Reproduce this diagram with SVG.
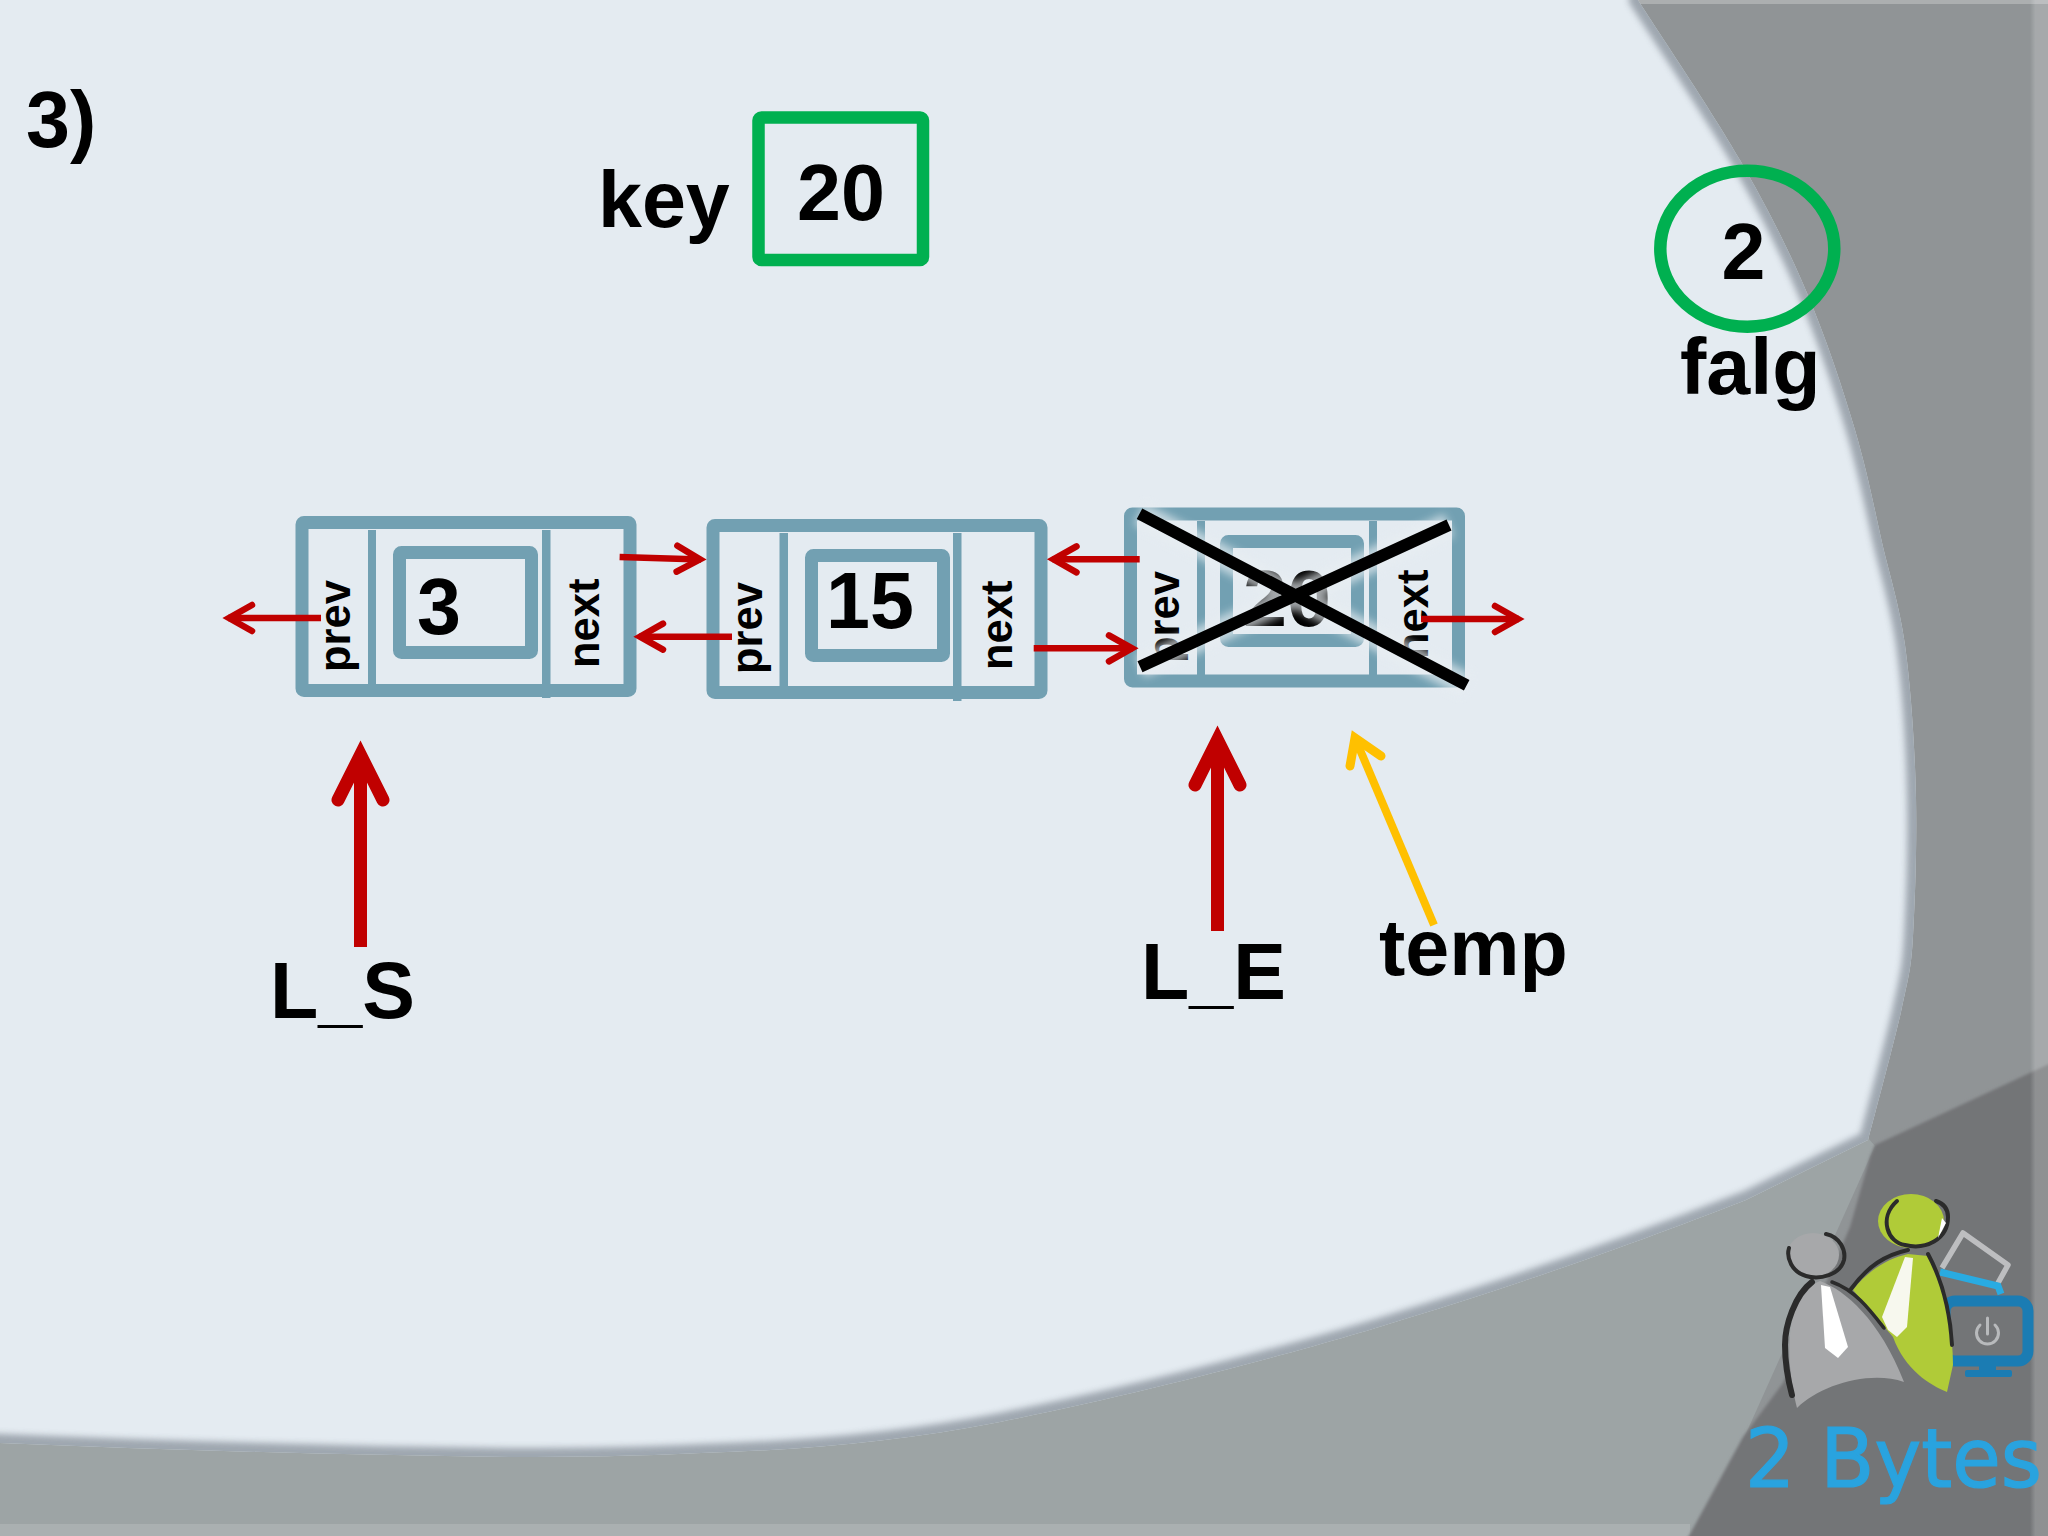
<svg xmlns="http://www.w3.org/2000/svg" width="2048" height="1536" viewBox="0 0 2048 1536">
<style>
text{font-family:"Liberation Sans",Arial,sans-serif;font-weight:700;fill:#000;font-size:79px}
.lbl{font-size:43.5px}
.frame{fill:none;stroke:#72A0B2;stroke-width:13;stroke-linejoin:round}
.div{fill:#72A0B2}
.thin{fill:none;stroke:#C00000;stroke-width:6.5;marker-end:url(#chev)}
.big{fill:none;stroke:#C00000;stroke-width:13;stroke-linecap:butt}
.bighead{fill:none;stroke:#C00000;stroke-width:13;stroke-linecap:round;stroke-miterlimit:10}
.x{fill:none;stroke:#000;stroke-width:12}
.xg{fill:none;stroke:#E8EEF2;stroke-width:24;filter:url(#b4);opacity:.7}
.dk{fill:none;stroke:#2B2B2B;stroke-linecap:round}
</style>
<defs>
<marker id="chev" markerUnits="userSpaceOnUse" markerWidth="48" markerHeight="44" viewBox="-36 -22 48 44" refX="0" refY="0" orient="auto">
<path d="M-24,-13 L-1,0 L-24,13" fill="none" stroke="#C00000" stroke-width="6.5" stroke-linecap="round" stroke-miterlimit="10"/>
</marker>
<filter id="b4" x="-20%" y="-20%" width="140%" height="140%"><feGaussianBlur stdDeviation="4"/></filter>
<filter id="b3" x="-5%" y="-5%" width="110%" height="110%"><feGaussianBlur stdDeviation="3"/></filter>
<filter id="b2" x="-5%" y="-5%" width="110%" height="110%"><feGaussianBlur stdDeviation="1.8"/></filter>
<path id="lightShape" d="M0,0 L1638,0 C1655,27 1712,111 1740,160 C1768,209 1788,248 1807,293 C1826,338 1843,389 1855,430 C1867,471 1873,502 1881,538 C1889,574 1899,602 1905,645 C1911,688 1915,750 1916,798 C1917,846 1915,900 1913,936 C1911,972 1908,978 1901,1012 C1893,1046 1880,1095 1868,1140 L1746,1200 C1700,1218 1560,1272 1408,1318 C1340,1340 1170,1388 1000,1422 C900,1442 800,1450 701,1453 C640,1456 575,1457 510,1457 C340,1455 170,1450 0,1443 Z"/>
<clipPath id="lightClip"><use href="#lightShape"/></clipPath>
<linearGradient id="edge" x1="0" x2="1" y1="0" y2="0"><stop offset="0" stop-color="#fff" stop-opacity="0"/><stop offset=".3" stop-color="#fff" stop-opacity=".2"/></linearGradient>
</defs>

<g id="background">
<rect width="2048" height="1536" fill="#909496"/>
<polygon points="0,1300 1868,1138 1875,1146 1700,1536 0,1536" fill="#9DA4A5"/>
<rect x="0" y="1524" width="1690" height="12" fill="#fff" opacity=".14"/>
<path d="M2060,1059 L1875,1145 L1870,1157 L1850,1227 L1783,1383 L1743,1437 L1684,1545 L2060,1545 Z" fill="#737477" filter="url(#b2)"/>
<rect x="2030" y="0" width="18" height="1536" fill="url(#edge)"/>
<rect x="1630" y="0" width="418" height="4" fill="#fff" opacity=".25"/>
<use href="#lightShape" fill="#E4EBF1"/>
<g clip-path="url(#lightClip)"><path d="M1638,-10 L1638,0 C1655,27 1712,111 1740,160 C1768,209 1788,248 1807,293 C1826,338 1843,389 1855,430 C1867,471 1873,502 1881,538 C1889,574 1899,602 1905,645 C1911,688 1915,750 1916,798 C1917,846 1915,900 1913,936 C1911,972 1908,978 1901,1012 C1893,1046 1880,1095 1868,1140 L1746,1200 C1700,1218 1560,1272 1408,1318 C1340,1340 1170,1388 1000,1422 C900,1442 800,1450 701,1453 C640,1456 575,1457 510,1457 C340,1455 170,1450 -20,1442" fill="none" stroke="#87909A" stroke-width="18" filter="url(#b3)" opacity=".75"/></g>
</g>

<g id="logo">
<rect x="1945" y="1301" width="83" height="60" rx="10" fill="none" stroke="#1B7CB3" stroke-width="11"/>
<rect x="1979" y="1366" width="17" height="6" fill="#1B7CB3"/>
<rect x="1965" y="1370" width="47" height="7" rx="2" fill="#1B7CB3"/>
<path d="M1980,1325 A11,11 0 1 0 1995,1325 M1987.5,1318 V1334" fill="none" stroke="#B8BABC" stroke-width="3" stroke-linecap="round"/>
<path d="M1942,1268 L1963,1233 L2008,1265 L1998,1283" fill="none" stroke="#BDBEC0" stroke-width="5.5" stroke-linejoin="round"/>
<path d="M1940,1272 L1998,1286 L2001,1294" fill="none" stroke="#29ABE2" stroke-width="7"/>
<ellipse cx="1911" cy="1221" rx="33" ry="27" fill="#B0CB38"/>
<path d="M1897,1201 C1878,1218 1888,1243 1905,1245 C1925,1250 1948,1240 1948,1217 C1948,1207 1942,1203 1936,1201" class="dk" stroke-width="4"/>
<path d="M1942,1218 L1946,1223 L1938,1238 Z" fill="#fff"/>
<path d="M1853,1290 C1870,1268 1890,1258 1908,1254 L1928,1256 C1945,1285 1953,1330 1953,1365 L1947,1392 C1930,1385 1905,1370 1893,1337 Z" fill="#B0CB38"/>
<path d="M1851,1289 C1868,1266 1885,1255 1908,1250 M1928,1254 C1942,1280 1950,1310 1952,1345" class="dk" stroke-width="4"/>
<path d="M1905,1257 L1913,1258 L1907,1327 L1897,1337 L1888,1330 L1882,1317 Z" fill="#F7F8EE"/>
<ellipse cx="1813" cy="1255" rx="26" ry="22" fill="#A7A8AA"/>
<path d="M1826,1234 C1840,1237 1846,1250 1844,1260 C1840,1275 1820,1280 1806,1276 C1792,1272 1786,1258 1789,1248" class="dk" stroke-width="4"/>
<path d="M1820,1281 C1845,1290 1880,1320 1904,1382 C1870,1370 1820,1385 1797,1408 C1790,1380 1785,1340 1795,1310 C1800,1295 1810,1285 1820,1281 Z" fill="#A7A8AA"/>
<path d="M1812,1282 C1795,1295 1785,1325 1785,1345 C1785,1365 1788,1380 1792,1395" class="dk" stroke-width="6"/>
<path d="M1832,1282 C1855,1290 1870,1310 1884,1328" class="dk" stroke-width="3.5"/>
<path d="M1821,1285 L1830,1287 L1848,1347 L1838,1358 L1825,1348 Z" fill="#fff"/>
<text transform="translate(1745,1487) scale(1,1.04)" style="font-family:'DejaVu Sans',sans-serif;font-weight:400;font-size:79px;fill:#29A3DF;stroke:#29A3DF;stroke-width:1.2">2 Bytes</text>
</g>

<text id="title" x="26" y="147">3)</text>

<g id="key">
<text x="598" y="227">key</text>
<rect x="758.5" y="117.5" width="164.5" height="142.5" rx="3" fill="none" stroke="#00B050" stroke-width="12.5"/>
<text x="797" y="220">20</text>
</g>

<g id="flag">
<ellipse cx="1747.3" cy="248.7" rx="87" ry="78" fill="none" stroke="#00B050" stroke-width="12.5"/>
<text x="1721.5" y="279">2</text>
<text x="1680" y="394">falg</text>
</g>

<g id="node1">
<rect class="frame" x="302" y="522.5" width="328" height="168" rx="2"/>
<rect class="div" x="368" y="530" width="8" height="162"/>
<rect class="div" x="542" y="530" width="8.5" height="168"/>
<rect class="frame" x="399.5" y="552.5" width="132" height="100" rx="2"/>
<text class="lbl" transform="translate(350,672) rotate(-90)">prev</text>
<text class="lbl" transform="translate(599,668) rotate(-90)">next</text>
<text x="417" y="634">3</text>
</g>

<g id="node2">
<rect class="frame" x="713" y="525.5" width="328" height="167" rx="2"/>
<rect class="div" x="779.5" y="533" width="8.5" height="162"/>
<rect class="div" x="953" y="533" width="8.5" height="168"/>
<rect class="frame" x="811.5" y="555.5" width="132" height="100" rx="2"/>
<text class="lbl" transform="translate(762,674) rotate(-90)">prev</text>
<text class="lbl" transform="translate(1012,670) rotate(-90)">next</text>
<text x="826" y="628">15</text>
</g>

<g id="node3">
<rect class="frame" x="1130.5" y="514" width="328" height="167" rx="2"/>
<rect class="div" x="1197" y="521" width="8" height="156"/>
<rect class="div" x="1369" y="521" width="8" height="156"/>
<rect class="frame" x="1226.5" y="541.5" width="131" height="99" rx="2"/>
<text class="lbl" transform="translate(1179,663) rotate(-90)">prev</text>
<text class="lbl" transform="translate(1428,659) rotate(-90)">next</text>
<text x="1243" y="626">20</text>
<path class="xg" d="M1139.5,513.7 L1466.7,685.3 M1449,525 L1140,666.7"/>
<path class="x" d="M1139.5,513.7 L1466.7,685.3 M1449,525 L1140,666.7"/>
</g>

<g id="pointers">
<text x="270" y="1018">L_S</text>
<text x="1141" y="999">L_E</text>
<text x="1379" y="975">temp</text>
</g>

<g id="connectors">
<path class="thin" d="M321,618 H228"/>
<path class="thin" d="M619.6,557 L701,559.4"/>
<path class="thin" d="M732,636.7 H639"/>
<path class="thin" d="M1139.7,559.3 H1052.5"/>
<path class="thin" d="M1033.7,648.3 H1133"/>
<path class="thin" d="M1421,619 H1519"/>
<path class="big" d="M360.5,947 V765"/>
<path class="bighead" d="M338,800 L360.5,755 L383,800"/>
<path class="big" d="M1217.5,931 V750"/>
<path class="bighead" d="M1195,785 L1217.5,740 L1240,785"/>
<path d="M1434,925 L1358,745" fill="none" stroke="#FFC000" stroke-width="8"/>
<path d="M1350,766 L1355,738 L1381,756" fill="none" stroke="#FFC000" stroke-width="9" stroke-linecap="round" stroke-miterlimit="10"/>
</g>
</svg>
